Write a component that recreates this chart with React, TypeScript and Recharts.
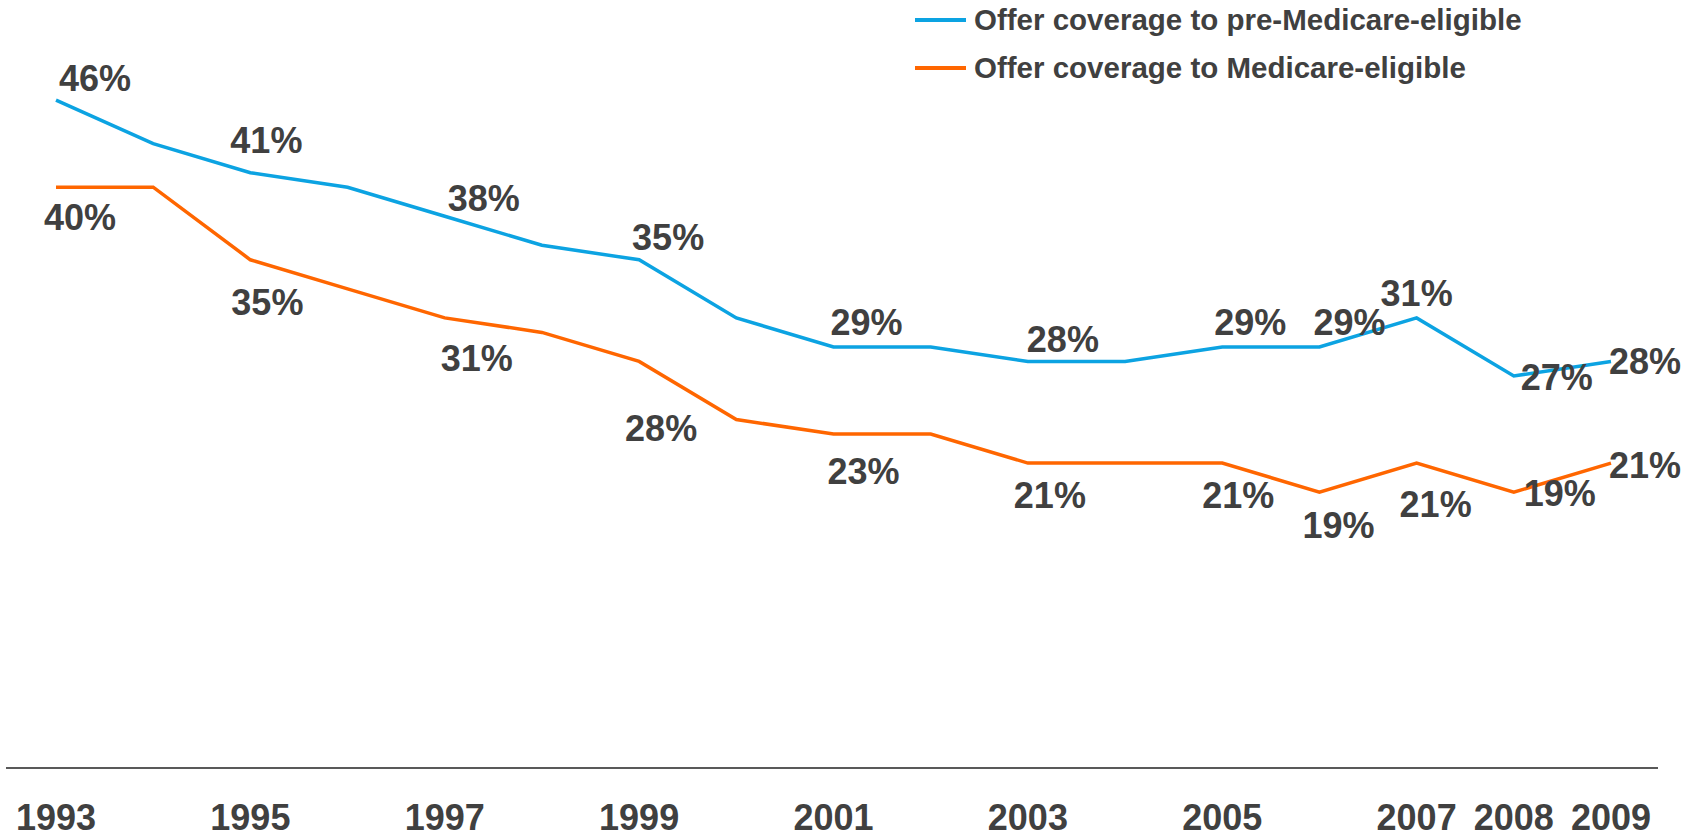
import { LineChart, Line, XAxis, YAxis, Legend, LabelList } from 'recharts';

const years = [
  '1993', '1994', '1995', '1996', '1997', '1998', '1999', '2000', '2001',
  '2002', '2003', '2004', '2005', '2006', '2007', '2008', '2009',
];
// only some years get a tick label on the axis
const tickLabels = [
  '1993', '', '1995', '', '1997', '', '1999', '', '2001',
  '', '2003', '', '2005', '', '2007', '2008', '2009',
];
const preMedicare = [46, 43, 41, 40, 38, 36, 35, 31, 29, 29, 28, 28, 29, 29, 31, 27, 28];
const medicare = [40, 40, 35, 33, 31, 30, 28, 24, 23, 23, 21, 21, 21, 19, 21, 19, 21];
const labeledYears = ['1993', '1995', '1997', '1999', '2001', '2003', '2005', '2006', '2007', '2008', '2009'];

// label placement (offset of label centre from the point), per year
const preOffsets: Record<string, [number, number]> = {
  '1993': [39, -22], '1995': [16, -32], '1997': [39, -18], '1999': [29, -22],
  '2001': [33, -24], '2003': [35, -22], '2005': [28, -24], '2006': [30, -24],
  '2007': [0, -24], '2008': [43, 2], '2009': [34, 0],
};
const medOffsets: Record<string, [number, number]> = {
  '1993': [24, 30], '1995': [17, 43], '1997': [32, 41], '1999': [22, 67],
  '2001': [30, 37], '2003': [22, 32], '2005': [16, 32], '2006': [19, 33],
  '2007': [19, 41], '2008': [46, 1], '2009': [34, 2],
};

const data = years.map((y, i) => ({
  year: y,
  pre: preMedicare[i],
  med: medicare[i],
}));

const FONT = '"Liberation Sans", Arial, sans-serif';
const TEXT = '#404040';
const BLUE = '#0ca3e2';
const ORANGE = '#ff6600';

const makeLabel = (offsets: Record<string, [number, number]>) => (props: any) => {
  const { x, y, value, index } = props;
  const yr = years[index];
  if (!labeledYears.includes(yr)) return null;
  const [dx, dy] = offsets[yr];
  return (
    <text
      x={x + dx}
      y={y + dy}
      textAnchor="middle"
      dominantBaseline="central"
      fill={TEXT}
      fontFamily={FONT}
      fontWeight={700}
      fontSize={36}
    >
      {value}%
    </text>
  );
};

const YearTick = (props: any) => {
  const { x, y, index } = props;
  return (
    <text x={x} y={y} dy={62} textAnchor="middle" fill={TEXT} fontFamily={FONT} fontWeight={700} fontSize={36}>
      {tickLabels[index]}
    </text>
  );
};

const LegendBox = (props: any) => {
  const { payload } = props;
  return (
    <div style={{ position: 'relative', width: 0, height: 0 }}>
      {(payload || []).map((p: any, i: number) => (
        <div key={p.value} style={{ position: 'absolute', left: 915, top: 20 + i * 48 - 18, height: 36, display: 'flex', alignItems: 'center', whiteSpace: 'nowrap' }}>
          <div style={{ width: 51, height: 3.5, background: p.color, marginRight: 8 }} />
          <span style={{ fontFamily: FONT, fontWeight: 700, fontSize: 29.5, color: TEXT }}>{p.value}</span>
        </div>
      ))}
    </div>
  );
};

export default function App() {
  return (
    <div style={{ position: 'absolute', left: 0, top: 0, background: '#fff' }}>
      <LineChart width={1692} height={838} data={data} margin={{ top: 42, right: 34, left: 6, bottom: 0 }}>
        <XAxis
          dataKey="year"
          height={70}
          padding={{ left: 50, right: 47 }}
          interval={0}
          tickSize={0}
          tickMargin={0}
          tickLine={false}
          axisLine={{ stroke: '#595959', strokeWidth: 2 }}
          tick={<YearTick />}
        />
        <YAxis hide domain={[0, 50]} />
        <Legend
          verticalAlign="top"
          align="left"
          itemSorter={(item: any) => (item.dataKey === 'pre' ? 0 : 1)}
          wrapperStyle={{ left: 0, top: 0, width: 0, height: 0 }}
          content={<LegendBox />}
        />
        <Line
          dataKey="pre"
          name="Offer coverage to pre-Medicare-eligible"
          stroke={BLUE}
          strokeWidth={3.5}
          dot={false}
          activeDot={false}
          isAnimationActive={false}
        >
          <LabelList dataKey="pre" content={makeLabel(preOffsets)} />
        </Line>
        <Line
          dataKey="med"
          name="Offer coverage to Medicare-eligible"
          stroke={ORANGE}
          strokeWidth={3.5}
          dot={false}
          activeDot={false}
          isAnimationActive={false}
        >
          <LabelList dataKey="med" content={makeLabel(medOffsets)} />
        </Line>
      </LineChart>
    </div>
  );
}
